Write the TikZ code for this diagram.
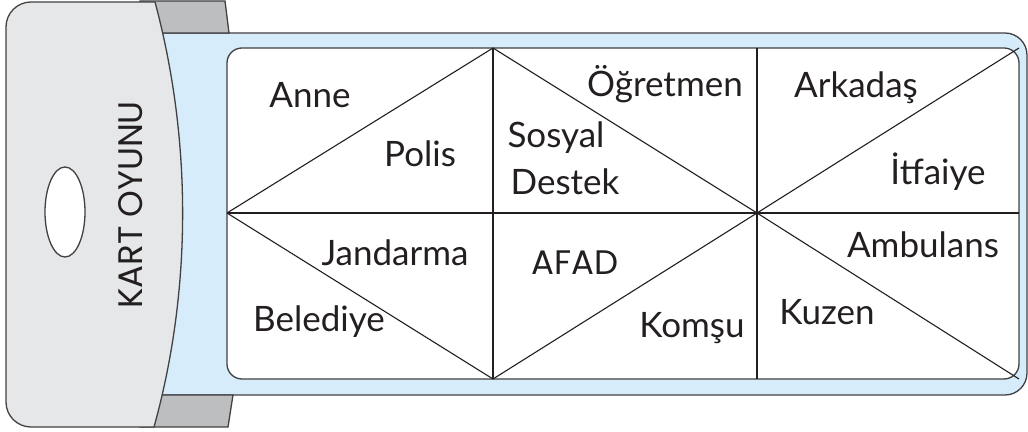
\documentclass[tikz,border=0pt]{standalone}
\usepackage{fontspec}
\setmainfont{Lato}
\newfontfamily\titlefont{Poppins}
\usetikzlibrary{positioning}
\definecolor{cardgray}{RGB}{230,231,232}
\definecolor{tabgray}{RGB}{188,190,192}
\definecolor{skyblue}{RGB}{214,236,250}
\definecolor{ink}{RGB}{35,31,32}
\definecolor{edge}{RGB}{65,64,66}

\begin{document}
\begin{tikzpicture}[x=.5pt,y=-.5pt,
  word/.style={anchor=base,text=ink,inner sep=0pt,font=\fontsize{17.5}{19}\selectfont},
  outline/.style={draw=edge,line width=.65pt},
  grid line/.style={draw=ink,line width=.55pt}]
\useasboundingbox (0,0) rectangle (1028,432);
% blue sleeve and the two grey tabs
\filldraw[outline,fill=skyblue,rounded corners=11pt] (140,33) rectangle (1027,395);
\filldraw[outline,fill=tabgray] (140,1) -- (225,1) -- (229,33) -- (140,33) -- cycle;
\filldraw[outline,fill=tabgray] (140,395) -- (233,395) -- (228,427) -- (140,427) -- cycle;
% card with hole
\filldraw[outline,fill=cardgray] (155,2) -- (31,2) arc[start angle=-90,end angle=-180,radius=25]
  -- (6,402) arc[start angle=180,end angle=90,radius=25] -- (154,427)
  .. controls (192,290) and (192,140) .. (155,2) -- cycle;
\filldraw[outline,fill=white] (65,212) ellipse [x radius=20, y radius=45];
\node[rotate=90,text=ink,inner sep=0pt,font=\titlefont\fontsize{17}{20}\selectfont] (title) at (131,205) {KART OYUNU};
% white board
\filldraw[outline,fill=white,rounded corners=7.5pt] (227,48) rectangle (1019,379);
\coordinate (w) at (227,213);
\coordinate (c) at (757,213);
\coordinate (e) at (1019,213);
\coordinate (t1) at (493,48);
\coordinate (t2) at (757,48);
\coordinate (t3) at (1019,48);
\coordinate (b1) at (493,379);
\coordinate (b2) at (757,379);
\coordinate (b3) at (1019,379);
\draw[grid line] (t1) -- (b1);
\draw[grid line] (t2) -- (b2);
\draw[grid line] (w) -- (e);
\draw[grid line] (w) -- (t1) -- (c) -- (t3);
\draw[grid line] (w) -- (b1) -- (c) -- (b3);
% words
\node[word] (anne) at (310,108) {Anne};
\node[word] (polis) at (420,167) {Polis};
\node[word] (ogretmen) at (665,97) {Öğretmen};
\node[word] (sosyal) at (556,148) {Sosyal};
\node[word] (destek) at (565,195) {Destek};
\node[word] (arkadas) at (856,98) {Arkadaş};
\node[word] (itfaiye) at (938,185) {İtfaiye};
\node[word] (jandarma) at (395,266) {Jandarma};
\node[word] (belediye) at (319,332) {Belediye};
\node[word,font=\titlefont\fontsize{17}{20}\selectfont] (afad) at (575,275) {AFAD};
\node[word] (komsu) at (692,338) {Komşu};
\node[word] (ambulans) at (923,258) {Ambulans};
\node[word] (kuzen) at (827,325) {Kuzen};
\end{tikzpicture}
\end{document}
